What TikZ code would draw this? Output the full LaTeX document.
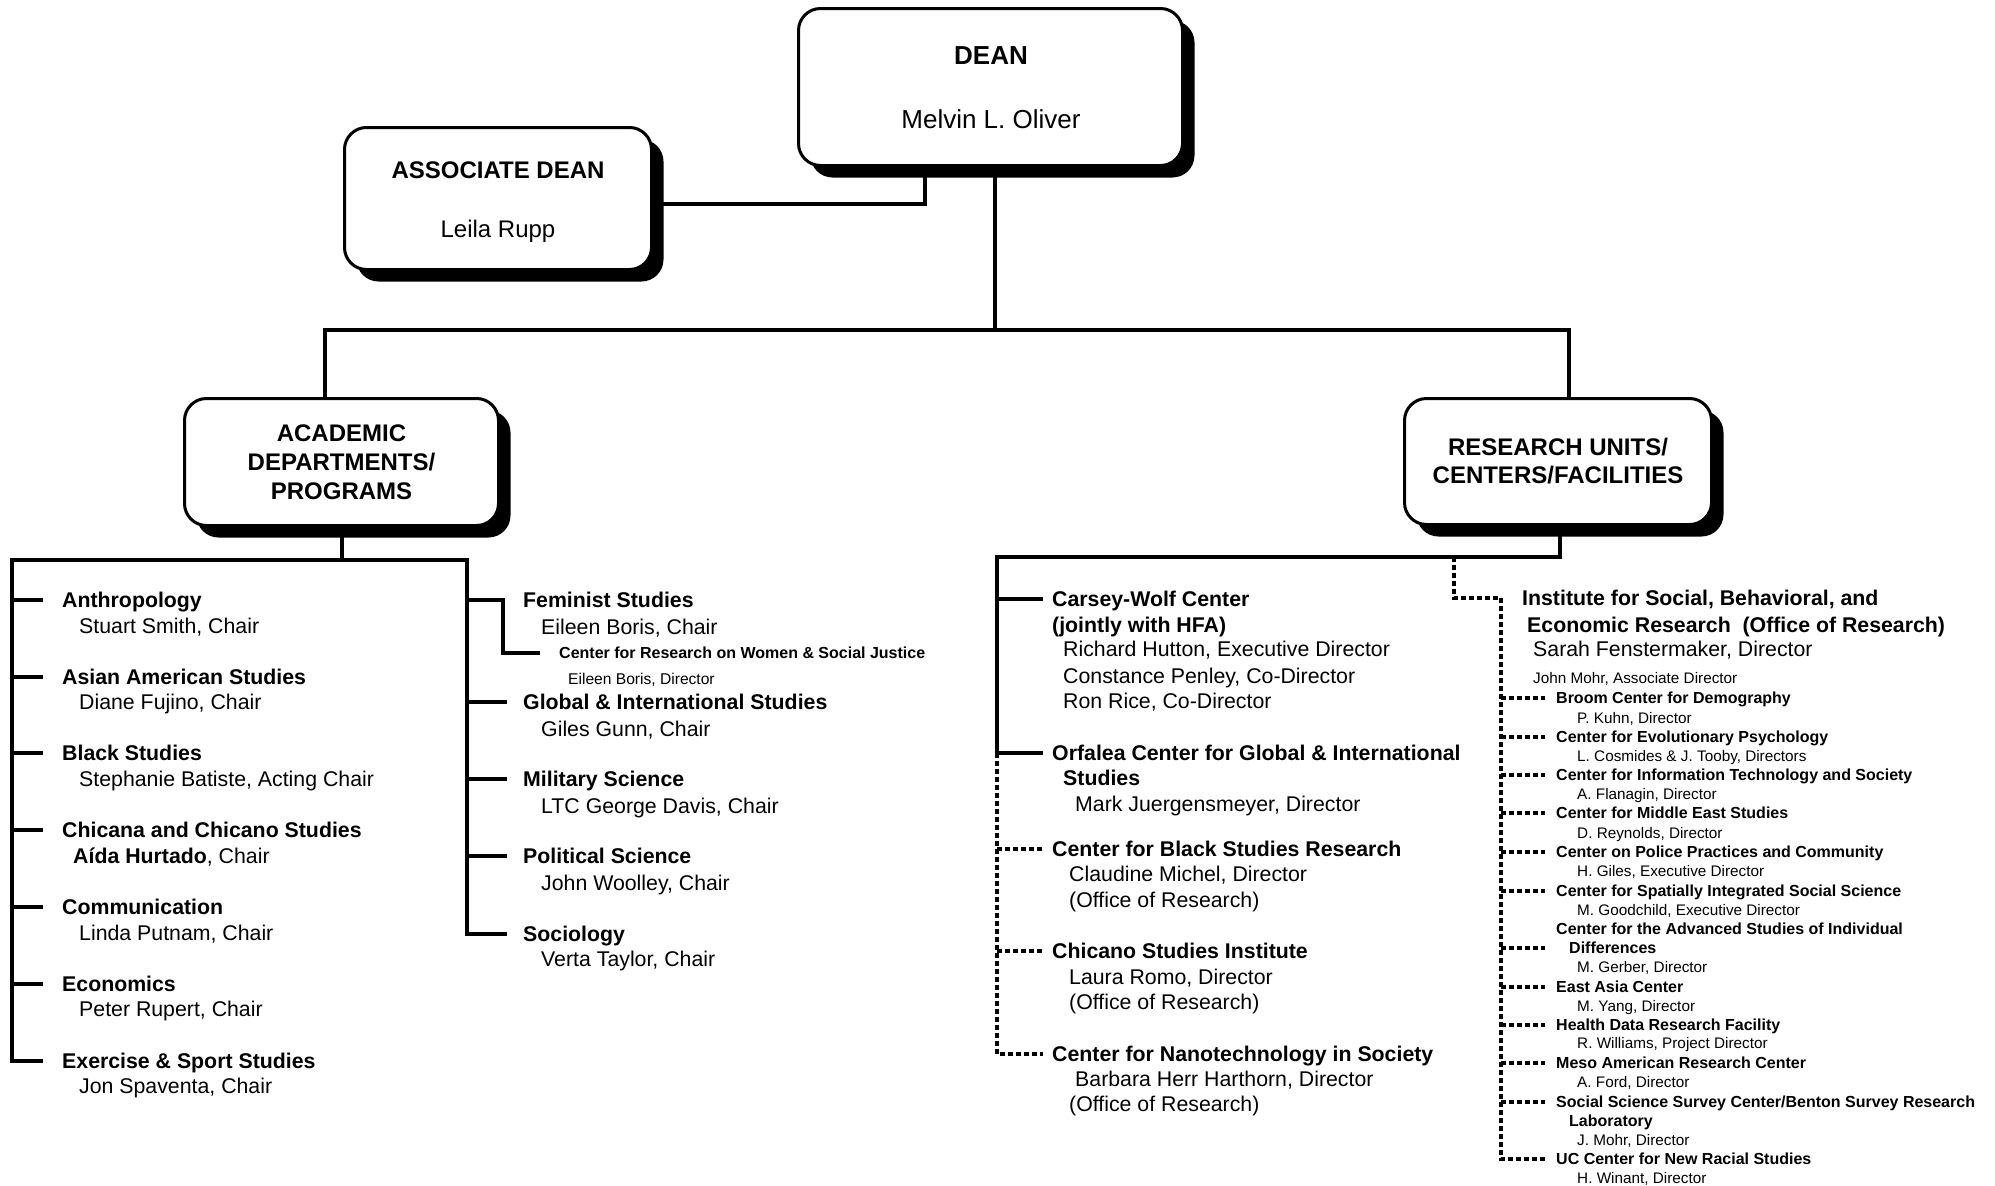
\documentclass[tikz,border=0pt]{standalone}
\usepackage{fontspec}
\setmainfont{Liberation Sans}
\usetikzlibrary{shadows}
\begin{document}
\begin{tikzpicture}[x=1pt,y=-1pt,
  toplw/.style={line width=4.5pt},
  lw/.style={line width=3.5pt},
  dsh/.style={line width=3.3pt, dash pattern=on 5pt off 3pt},
  bx/.style={draw, line width=3pt, fill=white, rounded corners=22pt, inner sep=0pt,
     drop shadow={shadow xshift=12pt,shadow yshift=-12pt,fill=black,opacity=1}},
  tx/.style={inner sep=0pt, text depth=0pt},
  hd/.style={tx, anchor=west, font=\fontsize{21.3}{25}\selectfont\bfseries, text height=15.3pt},
  nm/.style={tx, anchor=west, font=\fontsize{21.3}{25}\selectfont, text height=15.3pt},
  ihd/.style={tx, anchor=west, font=\fontsize{21.3}{25}\selectfont\bfseries, text height=15.3pt},
  inm/.style={tx, anchor=west, font=\fontsize{21.3}{25}\selectfont, text height=15.3pt},
  shd/.style={tx, anchor=west, font=\fontsize{16}{19}\selectfont\bfseries, text height=11.5pt},
  snm/.style={tx, anchor=west, font=\fontsize{15.3}{18}\selectfont, text height=11pt},
  bxt/.style={tx, anchor=center, font=\fontsize{24}{28}\selectfont\bfseries, text height=17.3pt},
  bxn/.style={tx, anchor=center, font=\fontsize{24}{28}\selectfont, text height=17.3pt},
  dnt/.style={tx, anchor=center, font=\fontsize{26}{30}\selectfont\bfseries, text height=18.7pt},
  dnn/.style={tx, anchor=center, font=\fontsize{26}{30}\selectfont, text height=18.7pt}]
\useasboundingbox (0,0) rectangle (1995,1186);

% ---------- boxes ----------
\node[bx, minimum width=384pt, minimum height=157pt] (dean) at (990.5,87) {};
\node[dnt] (deanT) at (991,55) {DEAN};
\node[dnn] (deanN) at (991,119) {Melvin L. Oliver};

\node[bx, minimum width=307pt, minimum height=142pt] (assoc) at (498,198.5) {};
\node[bxt] (assocT) at (498,170) {ASSOCIATE DEAN};
\node[bxn] (assocN) at (498,229) {Leila Rupp};

\node[bx, minimum width=314pt, minimum height=127pt] (acad) at (341.5,462) {};
\node[bxt] (acad1) at (341.5,433) {ACADEMIC};
\node[bxt] (acad2) at (341.5,462) {DEPARTMENTS/};
\node[bxt] (acad3) at (341.5,491) {PROGRAMS};

\node[bx, minimum width=307pt, minimum height=126pt] (res) at (1558,461.5) {};
\node[bxt] (res1) at (1558,447) {RESEARCH UNITS/};
\node[bxt] (res2) at (1558,475) {CENTERS/FACILITIES};

% ---------- academic departments, left column ----------
\node[hd] (anth) at (62,600) {Anthropology};
\node[nm] (anthN) at (79,626) {Stuart Smith, Chair};
\node[hd] (asian) at (62,677) {Asian American Studies};
\node[nm] (asianN) at (79,702) {Diane Fujino, Chair};
\node[hd] (black) at (62,753) {Black Studies};
\node[nm] (blackN) at (79,779) {Stephanie Batiste, Acting Chair};
\node[hd] (chic) at (62,830) {Chicana and Chicano Studies};
\node[nm] (chicN) at (73,856) {{\bfseries Aída Hurtado}, Chair};
\node[hd] (comm) at (62,907) {Communication};
\node[nm] (commN) at (79,933) {Linda Putnam, Chair};
\node[hd] (econ) at (62,984) {Economics};
\node[nm] (econN) at (79,1009) {Peter Rupert, Chair};
\node[hd] (exer) at (62,1061) {Exercise \& Sport Studies};
\node[nm] (exerN) at (79,1086) {Jon Spaventa, Chair};

% ---------- academic departments, right column ----------
\node[hd] (fem) at (523,600) {Feminist Studies};
\node[nm] (femN) at (541,627) {Eileen Boris, Chair};
\node[shd] (crw) at (559,653) {Center for Research on Women \& Social Justice};
\node[tx, anchor=west, font=\fontsize{15.6}{18}\selectfont, text height=11.2pt] (crwN) at (568,679) {Eileen Boris, Director};
\node[hd] (glob) at (523,702) {Global \& International Studies};
\node[nm] (globN) at (541,729) {Giles Gunn, Chair};
\node[hd] (mil) at (523,779) {Military Science};
\node[nm] (milN) at (541,806) {LTC George Davis, Chair};
\node[hd] (pol) at (523,856) {Political Science};
\node[nm] (polN) at (541,883) {John Woolley, Chair};
\node[hd] (soc) at (523,934) {Sociology};
\node[nm] (socN) at (541,959) {Verta Taylor, Chair};

% ---------- research, left column ----------
\node[hd] (cw) at (1052,599) {Carsey-Wolf Center};
\node[hd] (cw2) at (1052,625) {(jointly with HFA)};
\node[nm] (cw3) at (1063,649) {Richard Hutton, Executive Director};
\node[nm] (cw4) at (1063,676) {Constance Penley, Co-Director};
\node[nm] (cw5) at (1063,701) {Ron Rice, Co-Director};
\node[hd] (orf) at (1052,753) {Orfalea Center for Global \& International};
\node[hd] (orf2) at (1063,778) {Studies};
\node[nm] (orf3) at (1075,804) {Mark Juergensmeyer, Director};
\node[hd] (cbs) at (1052,849) {Center for Black Studies Research};
\node[nm] (cbs2) at (1069,874) {Claudine Michel, Director};
\node[nm] (cbs3) at (1069,900) {(Office of Research)};
\node[hd] (csi) at (1052,951) {Chicano Studies Institute};
\node[nm] (csi2) at (1069,977) {Laura Romo, Director};
\node[nm] (csi3) at (1069,1002) {(Office of Research)};
\node[hd] (nano) at (1052,1054) {Center for Nanotechnology in Society};
\node[nm] (nano2) at (1075,1079) {Barbara Herr Harthorn, Director};
\node[nm] (nano3) at (1069,1104) {(Office of Research)};

% ---------- ISBER ----------
\node[ihd] (isb1) at (1522,598) {Institute for Social, Behavioral, and};
\node[ihd] (isb2) at (1527,625) {Economic Research\ \ (Office of Research)};
\node[inm] (isb3) at (1533,649) {Sarah Fenstermaker, Director};
\node[snm] (isb4) at (1533,678) {John Mohr, Associate Director};

\node[shd] (broom) at (1556,698) {Broom Center for Demography};
\node[snm] (broomN) at (1577,718) {P. Kuhn, Director};
\node[shd] (cep) at (1556,737) {Center for Evolutionary Psychology};
\node[snm] (cepN) at (1577,756) {L. Cosmides \& J. Tooby, Directors};
\node[shd] (cits) at (1556,775) {Center for Information Technology and Society};
\node[snm] (citsN) at (1577,794) {A. Flanagin, Director};
\node[shd] (cmes) at (1556,813) {Center for Middle East Studies};
\node[snm] (cmesN) at (1577,833) {D. Reynolds, Director};
\node[shd] (cppc) at (1556,852) {Center on Police Practices and Community};
\node[snm] (cppcN) at (1577,871) {H. Giles, Executive Director};
\node[shd] (csiss) at (1556,891) {Center for Spatially Integrated Social Science};
\node[snm] (csissN) at (1577,910) {M. Goodchild, Executive Director};
\node[shd] (adv) at (1556,929) {Center for the Advanced Studies of Individual};
\node[shd] (diff) at (1569,948) {Differences};
\node[snm] (advN) at (1577,967) {M. Gerber, Director};
\node[shd] (eac) at (1556,987) {East Asia Center};
\node[snm] (eacN) at (1577,1006) {M. Yang, Director};
\node[shd] (hdrf) at (1556,1025) {Health Data Research Facility};
\node[snm] (hdrfN) at (1577,1043) {R. Williams, Project Director};
\node[shd] (marc) at (1556,1063) {Meso American Research Center};
\node[snm] (marcN) at (1577,1082) {A. Ford, Director};
\node[shd] (sssc) at (1556,1102) {Social Science Survey Center/Benton Survey Research};
\node[shd] (lab) at (1569,1121) {Laboratory};
\node[snm] (ssscN) at (1577,1140) {J. Mohr, Director};
\node[shd] (ucc) at (1556,1159) {UC Center for New Racial Studies};
\node[snm] (uccN) at (1577,1178) {H. Winant, Director};

% ---------- top connectors ----------
\coordinate (dA) at (925,204);
\coordinate (tr) at (995,330);
\coordinate (tL) at (325,330);
\coordinate (tR) at (1569,330);
\draw[toplw] (assoc.east |- dA) -- (dA) -- (dA |- dean.south);
\draw[toplw] (dean.south -| tr) -- (tr);
\draw[toplw] (acad.north -| tL) -- (tL) -- (tR) -- (tR |- res.north);

% ---------- academic connectors ----------
\coordinate (aB) at (342,560);
\coordinate (aL) at (12,560);
\coordinate (aR) at (467,560);
\coordinate (fk) at (503,600);
\draw[lw] (acad.south -| aB) -- (aB);
\draw[lw] ([xshift=-19pt]exer.west) -- (aL |- exer.west) -- (aL) -- (aR) -- (aR |- soc.west) -- ([xshift=-16pt]soc.west);
\foreach \n in {anth,asian,black,chic,comm,econ}
  \draw[lw] (aL |- \n.west) -- ([xshift=-19pt]\n.west);
\draw[lw] (aR |- fem.west) -- (fk |- fem.west) -- (fk |- crw.west) -- ([xshift=-19pt]crw.west);
\foreach \n in {glob,mil,pol}
  \draw[lw] (aR |- \n.west) -- ([xshift=-16pt]\n.west);

% ---------- research connectors ----------
\coordinate (rR) at (1560,557);
\coordinate (rL) at (997,557);
\coordinate (rD) at (1454,557);
\draw[lw] (res.south -| rR) -- (rR) -- (rL) -- (rL |- orf.west) -- ([xshift=-9pt]orf.west);
\draw[lw] (rL |- cw.west) -- ([xshift=-9pt]cw.west);
\draw[dsh] (rL |- orf.west) -- (rL |- nano.west) -- ([xshift=-9pt]nano.west);
\foreach \n in {cbs,csi}
  \draw[dsh] (rL |- \n.west) -- ([xshift=-9pt]\n.west);

% ---------- ISBER connectors ----------
\coordinate (iJ) at (1501,598);
\draw[dsh] (rD) -- (rD |- isb1.west) -- ([xshift=-21pt]isb1.west);
\draw[dsh] (iJ) -- (iJ |- ucc.west) -- ([xshift=-11pt]ucc.west);
\foreach \n in {broom,cep,cits,cmes,cppc,csiss,eac,hdrf,marc,sssc}
  \draw[dsh] (iJ |- \n.west) -- ([xshift=-11pt]\n.west);
\draw[dsh] (iJ |- diff.west) -- ([xshift=-24pt]diff.west);
\end{tikzpicture}
\end{document}
